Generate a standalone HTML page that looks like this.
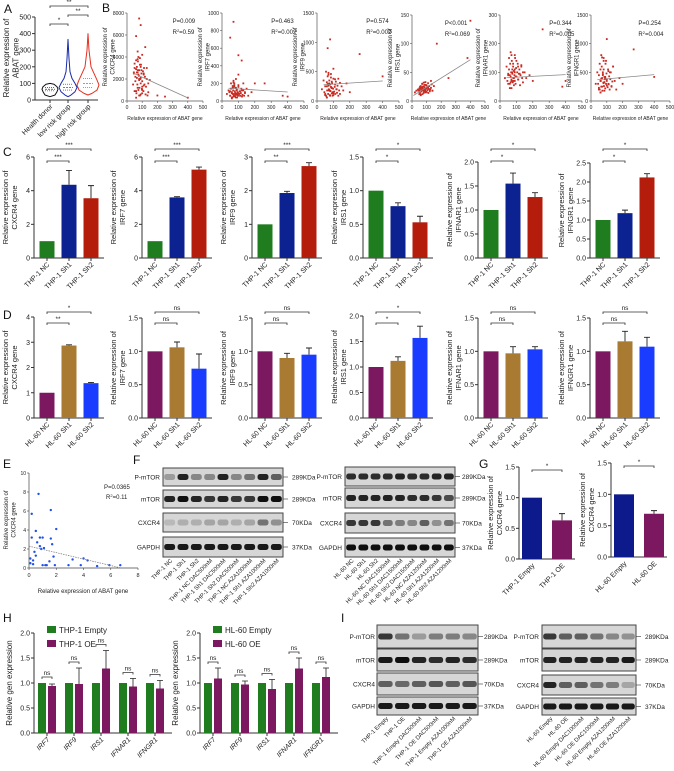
<!DOCTYPE html>
<html><head><meta charset="utf-8"><style>
body{margin:0;background:#fff}
svg{display:block;font-family:"Liberation Sans",sans-serif}
</style></head><body>
<svg id="fig" width="674" height="771" viewBox="0 0 674 771"></svg>
<script>
// ---------- DATA ----------
const aGroups=["Health donor","low risk group","high risk group"];
const aLevels=[[20,30,50,65,80,95,100],[20,30,50,75,100,130,170,250,365],[30,40,60,90,120,160,200,300,400]];
const aWidths=[[0,5,7,8,7,4,0],[0,3,7,9,7,4,2,1,0],[0,4,9,11,9,6,3,1,0]];
const aMed=[65,75,100], aQ1=[55,60,75], aQ3=[75,95,130];
const bTitles=["CXCR4","IRF7","IRF9","IRS1","IFNAR1","IFNGR1"];
const bYMax=[8000,1000,1500,150,300,1500];
const bYStep=[2000,200,500,50,100,500];
const bP=["P=0.009","P=0.463","P=0.574","P<0.001","P=0.344","P=0.254"];
const bR=["0.59","0.002","0.002","0.069","0.005","0.004"];
const bIntercept=[2800,150,270,8,80,360];
const bSlope=[-6.3,-0.12,0.18,0.16,0.03,0.25];
const bXExtra=[45,50,55,60,62,65,68,70,72,75,78,80,82,85,88,90,92,95,98,100,105,108,112,115,118,122,125,130,135,140,60,70,80,90,100,110,50,65,75,85];
const bX1=[40,50,55,60,60,65,70,70,75,80,80,85,90,90,95,100,100,110,110,120,130,140,150,60,80,90,200,250,400,45,70,100];
const bY1=[1500,3000,2200,5900,900,2600,3800,1200,2400,7500,2000,3300,6900,1600,2800,4200,700,2500,1400,4900,3000,800,1900,300,500,2100,500,400,300,2500,2800,1000];
const bY1b=[2600,3400,1800,2900,700,3100,1500,2600,3600,1000,2300,2800,1200,3900,2000,600,3300,2500,1100,1800,2700,900,3000,1500,2200,600,1300,2000,500,1600,3700,4500,1900,3100,1300,2400,900,2100,4000,500];
const bX2=[30,40,50,55,60,65,70,70,75,80,85,90,95,100,100,110,120,130,140,150,160,180,200,50,70,100,120,400,60,90,260,370];
const bY2=[80,120,60,200,100,150,50,900,180,90,250,130,70,520,160,110,460,200,90,140,60,100,200,720,230,300,120,50,40,80,200,60];
const bY2b=[100,60,140,90,40,170,120,80,60,200,110,50,90,150,70,130,40,100,60,180,80,110,60,90,140,50,70,120,60,100,30,210,70,120,90,60,110,80,160,40];
const bX3=[30,40,50,55,60,65,70,75,80,80,85,90,95,100,110,120,130,140,150,160,180,200,260,400,60,70,90,100];
const bY3=[200,350,120,500,250,900,180,300,1050,90,400,220,150,550,280,200,380,120,250,180,300,150,800,420,60,480,330,100];
const bY3b=[150,250,90,320,180,420,120,260,200,350,100,280,170,460,230,130,300,90,210,380,160,240,120,330,200,140,260,90,180,310,60,450,170,220,130,370,100,290,190,240];
const bX4=[20,30,40,50,55,60,65,70,75,80,85,90,95,100,110,120,130,140,150,170,250,380,400,60,80,100];
const bY4=[15,18,20,12,25,22,17,30,19,14,24,21,28,16,23,20,35,18,26,100,40,75,140,10,32,27];
const bY4b=[18,22,14,26,20,17,23,30,12,21,19,25,16,28,20,18,33,15,22,27,19,24,14,21,26,17,20,23,29,18,11,24,20,16,22,31,19,17,25,20];
const bX5=[30,40,50,55,60,65,70,75,80,85,90,95,100,110,120,130,140,150,160,180,200,260,380,400,70,90];
const bY5=[80,120,60,150,90,170,70,100,130,55,110,85,140,75,95,120,65,100,80,90,70,250,50,70,45,160];
const bY5b=[70,90,110,60,130,85,100,75,140,95,65,120,80,105,90,70,150,60,115,85,100,130,75,95,110,55,90,125,80,100,45,160,70,100,85,120,95,65,110,80];
const bX6=[30,40,50,55,60,65,70,75,80,85,90,95,100,110,120,130,140,150,160,180,200,270,400,60,80,100];
const bY6=[300,500,200,650,350,800,250,450,550,180,400,700,1080,300,500,250,600,350,200,400,300,900,420,150,750,380];
const bY6b=[300,450,200,550,350,250,600,400,180,500,320,700,260,420,380,220,650,300,480,350,240,550,290,430,200,380,500,260,340,600,150,760,310,420,270,520,230,390,470,330];
const cTitles=["CXCR4","IRF7","IRF9","IRS1","IFNAR1","IFNGR1"];
const cCats=["THP-1 NC","THP-1 Sh1","THP-1 Sh2"];
const cMax=[6,6,3,1.5,2,2.5];
const cStep=[2,2,1,0.5,0.5,0.5];
const cVals=[[1,4.35,3.55],[1,3.6,5.25],[1,1.93,2.73],[1,0.77,0.53],[1,1.55,1.27],[1,1.18,2.12]];
const cErrs=[[0,0.85,0.75],[0,0.04,0.15],[0,0.05,0.1],[0,0.05,0.09],[0,0.22,0.09],[0,0.08,0.1]];
const cSig=[["***","***"],["***","***"],["**","***"],["*","*"],["*","*"],["*","*"]];
const dCats=["HL-60 NC","HL-60 Sh1","HL-60 Sh2"];
const dMax=[4,1.5,1.5,2,1.5,1.5];
const dStep=[1,0.5,0.5,0.5,0.5,0.5];
const dVals=[[1,2.87,1.38],[1,1.06,0.74],[1,0.9,0.95],[1,1.12,1.57],[1,0.97,1.03],[1,1.15,1.07]];
const dErrs=[[0,0.03,0.03],[0,0.08,0.22],[0,0.07,0.1],[0,0.08,0.23],[0,0.1,0.04],[0,0.15,0.14]];
const dSig=[["**","*"],["ns","ns"],["ns","ns"],["*","*"],["ns","ns"],["ns","ns"]];
const eX=[0.1,0.1,0.2,0.2,0.3,0.3,0.4,0.5,0.5,0.6,0.7,0.8,0.8,0.9,1,1,1.1,1.2,1.3,1.5,1.6,1.6,1.7,1.8,1.9,2,2.9,3.2,3.8,4,4.3,5,5.9,6.7];
const eY=[1,0.5,3.2,5.7,0.8,0.4,1.7,1.3,3.9,2.7,7.8,3.2,2.3,2,3.2,0.3,2.1,0.3,0.3,0.7,3.1,6.1,2.5,1.2,0.3,4.1,0.3,0.9,0.3,1,0.8,0.2,0.3,0.3];
const eLine=[2.3,-0.34];
const gCats1=["THP-1 Empty","THP-1 OE"], gCats2=["HL-60 Empty","HL-60 OE"];
const gVals1=[1,0.63], gErrs1=[0,0.11], gVals2=[1,0.69], gErrs2=[0,0.05];
const hCats=["IRF7","IRF9","IRS1","IFNAR1","IFNGR1"];
const hEmpty1=[1,1,1,1,1], hOE1=[0.94,0.98,1.29,0.93,0.89], hErr1=[0.04,0.32,0.36,0.16,0.16];
const hEmpty2=[1,1,1,1,1], hOE2=[1.09,0.97,0.88,1.29,1.12], hErr2=[0.21,0.07,0.19,0.21,0.18];
const fLanesL=["THP-1 NC","THP-1 Sh1","THP-1 Sh2","THP-1 NC DAC500nM","THP-1 Sh1 DAC500nM","THP-1 Sh2 DAC500nM","THP-1 NC AZA1000nM","THP-1 Sh1 AZA1000nM","THP-1 Sh2 AZA1000nM"];
const fLanesR=["HL-60 NC","HL-60 Sh1","HL-60 Sh2","HL-60 NC DAC1500nM","HL-60 Sh1 DAC1500nM","HL-60 Sh2 DAC1500nM","HL-60 NC AZA1200nM","HL-60 Sh1 AZA1200nM","HL-60 Sh2 AZA1200nM"];
const fIntL=[[0.3,0.9,0.4,0.4,0.9,0.4,0.5,0.9,0.6],[0.9,1,0.9,0.8,0.9,0.8,0.8,1,1],[0.15,0.2,0.2,0.25,0.25,0.2,0.25,0.5,0.35],[0.95,0.95,0.95,0.95,0.95,0.95,0.95,0.95,0.95]];
const fIntR=[[0.85,0.85,0.85,0.85,0.9,0.85,0.85,0.9,0.9],[0.9,0.9,0.9,0.9,0.9,0.85,0.85,0.8,0.7],[0.8,0.8,0.8,0.5,0.45,0.4,0.6,0.35,0.5],[1,1,1,1,1,1,1,1,1]];
const iLanesL=["THP-1 Empty","THP-1 OE","THP-1 Empty DAC500nM","THP-1 OE DAC500nM","THP-1 Empty AZA1000nM","THP-1 OE AZA1000nM"];
const iLanesR=["HL-60 Empty","HL-60 OE","HL-60 Empty DAC1000nM","HL-60 OE DAC1000nM","HL-60 Empty AZA1200nM","HL-60 OE AZA1200nM"];
const iIntL=[[0.8,0.5,0.3,0.45,0.45,0.4],[0.95,1,0.9,0.85,0.9,0.85],[0.6,0.55,0.6,0.65,0.6,0.65],[0.95,0.95,0.95,0.95,0.95,0.95]];
const iIntR=[[0.8,0.6,0.6,0.5,0.4,0.35],[0.9,0.9,0.9,0.9,0.9,0.95],[0.9,0.6,0.6,0.5,0.45,0.25],[0.95,0.95,0.95,0.95,0.95,0.95]];
const blotRows=["P-mTOR","mTOR","CXCR4","GAPDH"];
const blotKDa=["289KDa","289KDa","70KDa","37KDa"];

// ---------- HELPERS ----------
const svg=document.getElementById('fig');
const NS="http://www.w3.org/2000/svg";
function mk(tag,attrs,parent){const e=document.createElementNS(NS,tag);for(const k in attrs)e.setAttribute(k,attrs[k]);(parent||svg).appendChild(e);return e;}
function txt(x,y,s,size,attrs,parent){const t=mk('text',Object.assign({x:x,y:y,'font-size':size,fill:'#222'},attrs||{}),parent);t.textContent=s;return t;}
function grp(name){const g=mk('g',{});return g;}
function fmt(v,step){return step<1?v.toFixed(1):String(Math.round(v));}
function panelLabel(x,y,s){const t=txt(x,y,s,12,{fill:'#111'});}
function yAxis(g,x,yT,yB,max,step){mk('line',{x1:x,y1:yT,x2:x,y2:yB,stroke:'#333','stroke-width':1},g);
 for(let v=0;v<=max+1e-9;v+=step){const y=yB-v/max*(yB-yT);mk('line',{x1:x-3,y1:y,x2:x,y2:y,stroke:'#333'},g);txt(x-4,y+2.5,fmt(v,step),7,{'text-anchor':'end'},g);}}
function yTitle(g,x,yc,l1,l2,size){const t=txt(0,0,'',size||7.5,{'text-anchor':'middle',transform:`translate(${x},${yc}) rotate(-90)`},g);
 const a=mk('tspan',{x:0,dy:0},t);a.textContent=l1;if(l2){const b=mk('tspan',{x:0,dy:(size||7.5)+1.5},t);b.textContent=l2;}}
function catLabel(g,x,y,s,size,italic){txt(0,0,s,size||7,{'text-anchor':'end',transform:`translate(${x+3},${y}) rotate(-45)`,'font-style':italic?'italic':'normal'},g);}
function bracket(g,x1,x2,y,label){mk('path',{d:`M${x1},${y+2}V${y}H${x2}V${y+2}`,stroke:'#333',fill:'none','stroke-width':0.8},g);txt((x1+x2)/2,y-2,label,6.5,{'text-anchor':'middle'},g);}

// ---------- A ----------
panelLabel(4,13,'A');
(function(){const g=grp('violin-plot-abat');const x0=35,yT=17,yB=100,max=500;const ys=v=>yB-v/max*(yB-yT);
 yAxis(g,x0,yT,yB,max,100);mk('line',{x1:x0,y1:yB,x2:98,y2:yB,stroke:'#333'},g);
 yTitle(g,9,58,'Relative expression of','ABAT gene',8);
 const cx=[50,68,88],cols=['#111','#1a2aa8','#e53020'];
 for(let i=0;i<3;i++){const L=aLevels[i],W=aWidths[i];let d='';
  for(let k=0;k<L.length;k++)d+=(k?'L':'M')+(cx[i]+W[k])+','+ys(L[k]);
  for(let k=L.length-1;k>=0;k--)d+='L'+(cx[i]-W[k])+','+ys(L[k]);
  const p=mk('path',{d:d+'Z',fill:'none',stroke:cols[i],'stroke-width':1,'stroke-linejoin':'round'},g);
  [aQ1[i],aMed[i],aQ3[i]].forEach((q,j)=>mk('line',{x1:cx[i]-5,y1:ys(q),x2:cx[i]+5,y2:ys(q),stroke:cols[i],'stroke-width':0.6,'stroke-dasharray':j===1?'2,1':'1,1'},g));
  mk('line',{x1:cx[i],y1:yB,x2:cx[i],y2:yB+3,stroke:'#333'},g);catLabel(g,cx[i],yB+7,aGroups[i],7);}
 bracket(g,50,68,24,'*');bracket(g,68,88,15,'**');bracket(g,50,88,6,'**');})();

// ---------- B ----------
panelLabel(102,12,'B');
const bXs=[bX1.concat(bXExtra),bX2.concat(bXExtra),bX3.concat(bXExtra),bX4.concat(bXExtra),bX5.concat(bXExtra),bX6.concat(bXExtra)];
const bYs=[bY1.concat(bY1b),bY2.concat(bY2b),bY3.concat(bY3b),bY4.concat(bY4b),bY5.concat(bY5b),bY6.concat(bY6b)];
const bLeft=[127,222,317,412,500,591],bRight=[203,304,399,485,582,670],bTop=[13,13,13,15,15,15];
for(let p=0;p<6;p++){const g=grp('scatter-'+bTitles[p].toLowerCase());const x0=bLeft[p],x1=bRight[p],yT=bTop[p],yB=101;
 const xs=v=>x0+v/500*(x1-x0),ys=v=>yB-v/bYMax[p]*(yB-yT);
 mk('line',{x1:x0,y1:yT,x2:x0,y2:yB,stroke:'#555','stroke-width':0.7},g);mk('line',{x1:x0,y1:yB,x2:x1,y2:yB,stroke:'#555','stroke-width':0.7},g);
 for(let v=0;v<=bYMax[p];v+=bYStep[p]){mk('line',{x1:x0-2,y1:ys(v),x2:x0,y2:ys(v),stroke:'#555','stroke-width':0.6},g);txt(x0-3,ys(v)+2,String(v),5,{'text-anchor':'end'},g);}
 for(let v=0;v<=500;v+=100){mk('line',{x1:xs(v),y1:yB,x2:xs(v),y2:yB+2,stroke:'#555','stroke-width':0.6},g);txt(xs(v),yB+8,String(v),5,{'text-anchor':'middle'},g);}
 txt((x0+x1)/2,yB+19,'Relative expression of ABAT gene',5,{'text-anchor':'middle'},g);
 yTitle(g,x0-20,(yT+yB)/2,'Relative expression of',bTitles[p]+' gene',6);
 for(let i=0;i<bXs[p].length;i++){mk('rect',{x:xs(bXs[p][i])-0.9,y:ys(bYs[p][i])-0.9,width:1.8,height:1.8,fill:'#c82a22'},g);}
 const lx0=p===3?10:40;mk('line',{x1:xs(lx0),y1:ys(bIntercept[p]+bSlope[p]*lx0),x2:xs(400),y2:ys(bIntercept[p]+bSlope[p]*400),stroke:'#888','stroke-width':0.8},g);
 const tx=x0+(x1-x0)*(p===3?0.45:0.6);txt(tx,yT+10,bP[p],6,{},g);const r=txt(tx,yT+21,'R',6,{},g);const s=mk('tspan',{'font-size':4,dy:-2},r);s.textContent='2';const s2=mk('tspan',{dy:2},r);s2.textContent='='+bR[p];}

// ---------- C & D ----------
const axL=[34,142,252,363,478,590];
function barPanel(prefix,cats,maxA,stepA,vals,errs,sig,titles,yTops,yB,cols,brY){
 for(let p=0;p<6;p++){const g=grp(prefix+'-bar-'+titles[p].toLowerCase());const x0=axL[p],yT=yTops[p],max=maxA[p];const ys=v=>yB-v/max*(yB-yT);
  yAxis(g,x0,yT,yB,max,stepA[p]);mk('line',{x1:x0,y1:yB,x2:x0+70,y2:yB,stroke:'#333'},g);
  yTitle(g,x0-26,(yT+yB)/2,'Relative expression of',titles[p]+' gene',7.5);
  const off=[13,35,57];
  for(let i=0;i<3;i++){const cx=x0+off[i];const r=mk('rect',{x:cx-7.5,y:ys(vals[p][i]),width:15,height:yB-ys(vals[p][i]),fill:cols[i]},g);
   
   if(errs[p][i]>0){const ye=ys(vals[p][i]+errs[p][i]);mk('path',{d:`M${cx},${ys(vals[p][i])}V${ye}M${cx-3},${ye}H${cx+3}`,stroke:'#222','stroke-width':0.9},g);}
   mk('line',{x1:cx,y1:yB,x2:cx,y2:yB+3,stroke:'#333'},g);catLabel(g,cx,yB+7,cats[i],7);}
  bracket(g,x0+13,x0+35,brY[0],sig[p][0]);bracket(g,x0+13,x0+57,brY[1],sig[p][1]);}}
panelLabel(3,156,'C');
barPanel('c',cCats,cMax,cStep,cVals,cErrs,cSig,cTitles,[157,157,157,157,162,163],258,['#1f7d1f','#0c2290','#b41c0c'],[161,149]);
panelLabel(3,319,'D');
barPanel('d',dCats,dMax,dStep,dVals,dErrs,dSig,cTitles,[317,318,318,316,318,318],418,['#7b1860','#a97a32','#1a3cff'],[323,312]);

// ---------- E ----------
panelLabel(3,468,'E');
(function(){const g=grp('scatter-e-cxcr4-abat');const x0=29,x1=138,yT=473,yB=568;const xs=v=>x0+v/8*(x1-x0),ys=v=>yB-v/10*(yB-yT);
 mk('line',{x1:x0,y1:yT,x2:x0,y2:yB,stroke:'#444','stroke-width':0.7},g);mk('line',{x1:x0,y1:yB,x2:x1,y2:yB,stroke:'#444','stroke-width':0.7},g);
 for(let v=0;v<=10;v+=2){mk('line',{x1:x0-2,y1:ys(v),x2:x0,y2:ys(v),stroke:'#444','stroke-width':0.6},g);txt(x0-3,ys(v)+2,String(v),5,{'text-anchor':'end'},g);}
 for(let v=0;v<=8;v+=2){mk('line',{x1:xs(v),y1:yB,x2:xs(v),y2:yB+2,stroke:'#444','stroke-width':0.6},g);txt(xs(v),yB+9,String(v),5.5,{'text-anchor':'middle'},g);}
 txt(83,593,'Relative expression of ABAT gene',6,{'text-anchor':'middle'},g);
 yTitle(g,8,520,'Relative expression of','CXCR4 gene',6);
 for(let i=0;i<eX.length;i++)mk('circle',{cx:xs(eX[i]),cy:ys(eY[i]),r:1.2,fill:'#2050e8'},g);
 mk('line',{x1:xs(0),y1:ys(eLine[0]),x2:xs(6.7),y2:ys(eLine[0]+eLine[1]*6.7),stroke:'#777','stroke-width':0.7,'stroke-dasharray':'1.5,1'},g);
 txt(104,489,'P=0.0365',6,{},g);const r=txt(106,499,'R',6,{},g);const s=mk('tspan',{'font-size':4,dy:-2},r);s.textContent='2';const s2=mk('tspan',{dy:2},r);s2.textContent='=0.11';})();

// ---------- Blots ----------
function blot(name,x0,x1,rows,lanes,ints,labX,kdaX){const g=grp(name);const n=lanes.length;const lw=(x1-x0)/n;
 for(let r=0;r<4;r++){const [yT,yB]=rows[r];mk('rect',{x:x0,y:yT,width:x1-x0,height:yB-yT,fill:'#d6d6d6',stroke:'#444','stroke-width':1},g);
  txt(labX,(yT+yB)/2+2.5,blotRows[r],6.5,{'text-anchor':'end'},g);
  mk('line',{x1:x1,y1:(yT+yB)/2,x2:x1+5,y2:(yT+yB)/2,stroke:'#333','stroke-width':0.6},g);txt(kdaX,(yT+yB)/2+2.5,blotKDa[r],6.5,{},g);
  for(let l=0;l<n;l++){const v=ints[r][l];const c=Math.round(215-200*v);
   mk('rect',{x:x0+l*lw+1.2,y:(yT+yB)/2-3,width:lw-2.4,height:6,rx:2.5,fill:`rgb(${c},${c},${c})`},g);}}
 const yb=rows[3][1]+4;for(let l=0;l<n;l++)catLabel(g,x0+l*lw+lw/2,yb,lanes[l],5.8);}
panelLabel(133,464,'F');
blot('western-blot-f-thp1',163,283,[[468,486],[490,508],[513,532],[537,557]],fLanesL,fIntL,160,292);
blot('western-blot-f-hl60',345,455,[[467,486],[488,508],[513,533],[538,557]],fLanesR,fIntR,342,462);

// ---------- G ----------
panelLabel(479,468,'G');
function gPanel(name,x0,yT,yB,cats,vals,errs){const g=grp(name);const ys=v=>yB-v/1.5*(yB-yT);
 yAxis(g,x0,yT,yB,1.5,0.5);mk('line',{x1:x0,y1:yB,x2:x0+56,y2:yB,stroke:'#333'},g);
 yTitle(g,x0-26,(yT+yB)/2,'Relative expression of','CXCR4 gene',7.5);const cols=['#0c1a8c','#7b1860'];const cx=[x0+13,x0+43];
 for(let i=0;i<2;i++){const r=mk('rect',{x:cx[i]-10,y:ys(vals[i]),width:20,height:yB-ys(vals[i]),fill:cols[i]},g);
  if(errs[i]>0){const ye=ys(vals[i]+errs[i]);mk('path',{d:`M${cx[i]},${ys(vals[i])}V${ye}M${cx[i]-3},${ye}H${cx[i]+3}`,stroke:'#222','stroke-width':0.9},g);}
  catLabel(g,cx[i],yB+7,cats[i],7);}
 bracket(g,cx[0],cx[1],yT+3,'*');}
gPanel('g-bar-thp1',519,467,559,gCats1,gVals1,gErrs1);
gPanel('g-bar-hl60',611,463,557,gCats2,gVals2,gErrs2);

// ---------- H ----------
panelLabel(3,622,'H');
function hPanel(name,x0,e,o,er,leg){const g=grp(name);const yT=633,yB=733;const ys=v=>yB-v/2*(yB-yT);
 yAxis(g,x0,yT,yB,2,0.5);mk('line',{x1:x0,y1:yB,x2:x0+138,y2:yB,stroke:'#333'},g);
 yTitle(g,x0-22,(yT+yB)/2,'Relative gen expression',null,8);
 for(let k=0;k<5;k++){const c=x0+13+k*27;
  mk('rect',{x:c-9,y:ys(e[k]),width:8,height:yB-ys(e[k]),fill:'#1f7d1f'},g);
  const r=mk('rect',{x:c+1,y:ys(o[k]),width:8,height:yB-ys(o[k]),fill:'#7b1860'},g);
  const ye=ys(o[k]+er[k]);mk('path',{d:`M${c+5},${ys(o[k])}V${ye}M${c+2},${ye}H${c+8}`,stroke:'#222','stroke-width':0.8},g);
  const by=Math.min(ys(e[k]),ye)-6;bracket(g,c-5,c+5,by,'ns');
  mk('line',{x1:c,y1:yB,x2:c,y2:yB+3,stroke:'#333'},g);catLabel(g,c,yB+7,hCats[k],7,true);}
 const lg=grp('legend-'+name);mk('rect',{x:x0+13,y:626,width:9,height:7,fill:'#1f7d1f'},lg);txt(x0+25,633,leg[0],8,{},lg);
 mk('rect',{x:x0+13,y:640,width:9,height:7,fill:'#7b1860'},lg);txt(x0+25,647,leg[1],8,{},lg);}
hPanel('h-bar-thp1',34,hEmpty1,hOE1,hErr1,['THP-1 Empty','THP-1 OE']);
hPanel('h-bar-hl60',200,hEmpty2,hOE2,hErr2,['HL-60 Empty','HL-60 OE']);

// ---------- I ----------
panelLabel(341,622,'I');
blot('western-blot-i-thp1',377,478,[[625,648],[649,671],[673,695],[697,715]],iLanesL,iIntL,375,484);
blot('western-blot-i-hl60',542,636,[[625,648],[649,671],[675,695],[698,715]],iLanesR,iIntR,539,645);
</script>
</body></html>
